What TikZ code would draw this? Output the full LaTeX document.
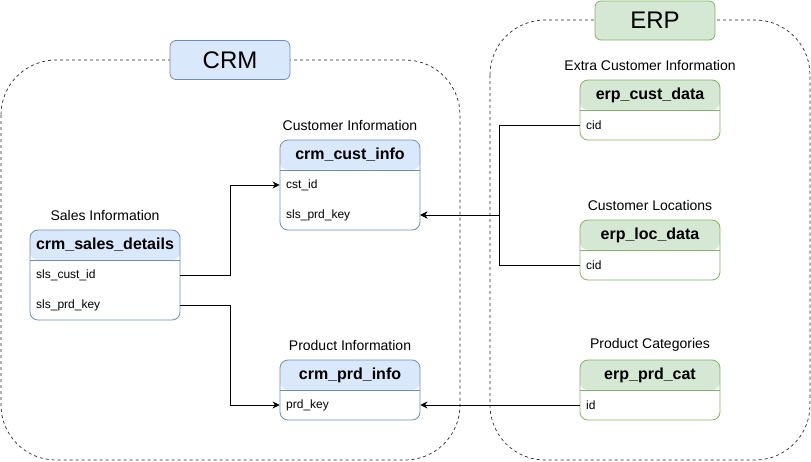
\documentclass[tikz,border=0pt]{standalone}
\usepackage{fontspec}
\setmainfont{Liberation Sans}
\usetikzlibrary{arrows.meta}
\definecolor{crmfill}{HTML}{DAE8FC}
\definecolor{crmline}{HTML}{6C8EBF}
\definecolor{erpfill}{HTML}{D5E8D4}
\definecolor{erpline}{HTML}{82B366}
\begin{document}
\begin{tikzpicture}[x=1pt,y=-1pt]
\useasboundingbox (0,0) rectangle (811,461);

\tikzset{
    groupbox/.style={draw=black!85, dash pattern=on 3pt off 3pt, rounded corners=55pt, line width=0.7pt},
    titlebox/.style={draw=#1line, fill=#1fill, rounded corners=6pt, minimum width=120pt, minimum height=39pt, line width=0.8pt, font=\fontsize{24}{28}\selectfont},
    tabbox/.style={draw=#1line, rounded corners=8pt, line width=0.8pt, minimum width=140pt, inner sep=0pt,
        path picture={
            \fill[#1fill] (path picture bounding box.north west) rectangle ([yshift=-30pt]path picture bounding box.north east);
            \draw[#1line, line width=0.8pt] ([yshift=-30pt]path picture bounding box.north west) -- ([yshift=-30pt]path picture bounding box.north east);
        }},
    headtext/.style={font=\fontsize{16}{19}\selectfont\bfseries},
    rowtext/.style={anchor=west, inner sep=0pt, font=\fontsize{12}{14}\selectfont},
    captext/.style={font=\fontsize{14}{17}\selectfont},
    link/.style={-{Stealth[length=7pt,width=7pt]}, line width=0.8pt}
}

% groups
\draw[groupbox] (1,60) rectangle (460,460);
\draw[groupbox] (490,20) rectangle (810,460);
\node[titlebox=crm] (crm) at (230,60) {CRM};
\node[titlebox=erp] (erp) at (655,20.5) {ERP};

% crm tables
\node[captext] at (350,125) {Customer Information};
\node[tabbox=crm, minimum height=90pt] (custinfo) at (350,185) {};
\node[headtext] at (350,155) {crm\_cust\_info};
\node[rowtext] (cstid) at (286,185) {cst\_id};
\node[rowtext] (custprd) at (286,215) {sls\_prd\_key};

\node[captext] at (105,215) {Sales Information};
\node[tabbox=crm, minimum width=150pt, minimum height=90pt] (sales) at (105,275) {};
\node[headtext] at (105,245) {crm\_sales\_details};
\node[rowtext] (slscust) at (36,275) {sls\_cust\_id};
\node[rowtext] (slsprd) at (36,305) {sls\_prd\_key};

\node[captext] at (350,345) {Product Information};
\node[tabbox=crm, minimum height=60pt] (prdinfo) at (350,390) {};
\node[headtext] at (350,375) {crm\_prd\_info};
\node[rowtext] (prdkey) at (286,405) {prd\_key};

% erp tables
\node[captext] at (650,65) {Extra Customer Information};
\node[tabbox=erp, minimum height=60pt] (custdata) at (650,110) {};
\node[headtext] at (650,95) {erp\_cust\_data};
\node[rowtext] (custcid) at (586,125) {cid};

\node[captext] at (650,205) {Customer Locations};
\node[tabbox=erp, minimum height=60pt] (locdata) at (650,250) {};
\node[headtext] at (650,235) {erp\_loc\_data};
\node[rowtext] (loccid) at (586,265) {cid};

\node[captext] at (650,345) {Product Categories};
\node[tabbox=erp, minimum height=60pt] (prdcat) at (650,390) {};
\node[headtext] at (650,375) {erp\_prd\_cat};
\node[rowtext] (catid) at (586,405) {id};

% links
\draw[link] (sales.east |- slscust) -- ++(50,0) |- (custinfo.west |- cstid);
\draw[link] (sales.east |- slsprd) -- ++(50,0) |- (prdinfo.west |- prdkey);
\draw[link] (custdata.west |- custcid) -- ++(-80,0) |- (custinfo.east |- custprd);
\draw[link] (locdata.west |- loccid) -- ++(-80,0) |- (custinfo.east |- custprd);
\draw[link] (prdcat.west |- catid) -- (prdinfo.east |- prdkey);

\end{tikzpicture}
\end{document}
